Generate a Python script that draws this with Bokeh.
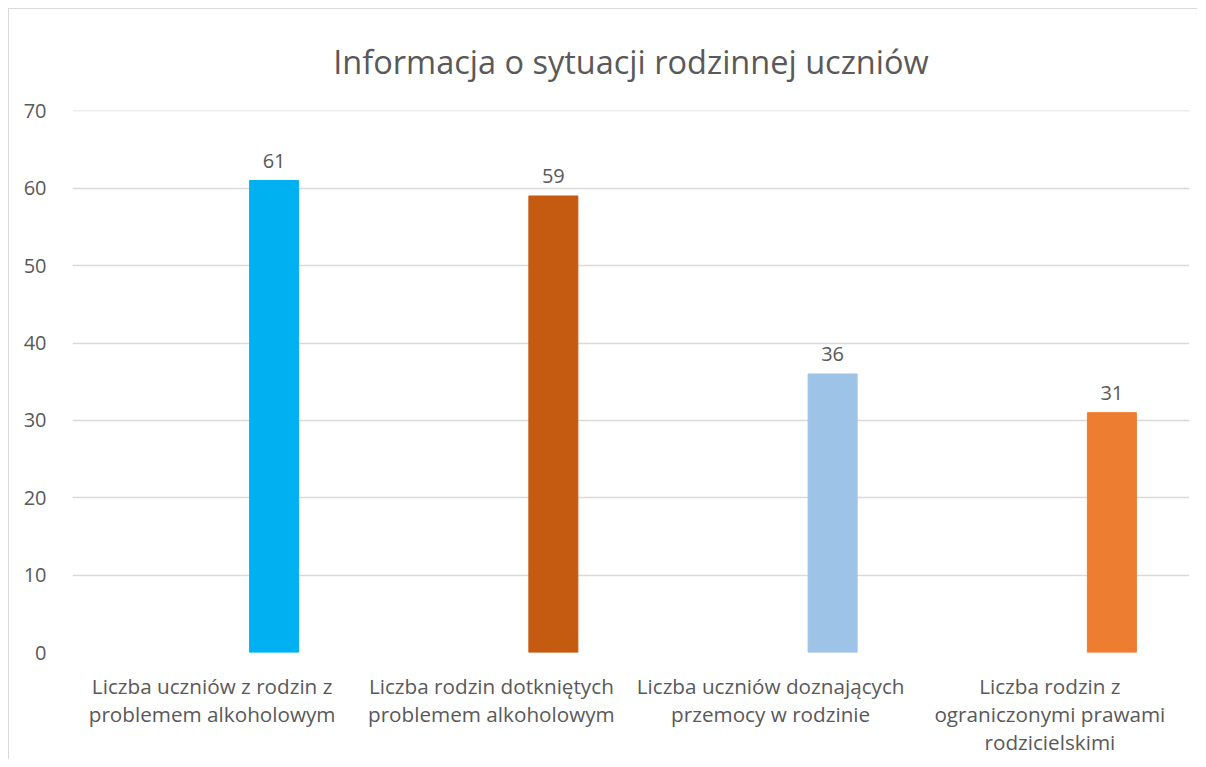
from bokeh.plotting import figure
from bokeh.models import ColumnDataSource, FactorRange, SingleIntervalTicker, Range1d
from bokeh.transform import dodge
from bokeh.core.properties import value
from bokeh.embed import file_html
from bokeh.resources import INLINE

title_text = "Informacja o sytuacji rodzinnej uczniów"
categories = [
    "Liczba uczniów z rodzin z\nproblemem alkoholowym",
    "Liczba rodzin dotkniętych\nproblemem alkoholowym",
    "Liczba uczniów doznających\nprzemocy w rodzinie",
    "Liczba rodzin z\nograniczonymi prawami\nrodzicielskimi",
]
values = [61, 59, 36, 31]
colors = ["#00B0F0", "#C55A11", "#9DC3E6", "#ED7D31"]
labels = [str(v) for v in values]

FONT = "Open Sans"
TXT = "#595959"

src = ColumnDataSource(dict(cat=categories, val=values, color=colors, lab=labels))

p = figure(
    width=1189, height=751,
    x_range=FactorRange(factors=categories, range_padding=0),
    y_range=Range1d(0, 70.05),
    output_backend="svg", toolbar_location=None,
    title=title_text,
)
p.min_border_left = 63
p.min_border_right = 9
p.min_border_bottom = 108
p.min_border_top = 98
p.styles = {"border-top": "1px solid #D9D9D9", "border-left": "1px solid #D9D9D9",
            "margin-top": "8px", "margin-left": "8px"}

p.title.align = "center"
p.title.text_font = FONT
p.title.text_font_size = "32.5px"
p.title.text_font_style = "normal"
p.title.text_color = TXT
p.title.standoff = 54

p.vbar(x=dodge("cat", 0.222, range=p.x_range), top="val", width=0.1755,
       color="color", source=src)
p.text(x=dodge("cat", 0.222, range=p.x_range), y="val", text="lab", source=src,
       text_align="center", text_baseline="bottom", y_offset=-13,
       text_font=value(FONT), text_font_size="20px", text_color=TXT)

p.outline_line_color = None
p.xgrid.grid_line_color = None
p.ygrid.grid_line_color = "#D9D9D9"
p.ygrid.grid_line_width = 1.3
p.yaxis.ticker = SingleIntervalTicker(interval=10)

for ax in (p.xaxis, p.yaxis):
    ax.axis_line_color = None
    ax.major_tick_line_color = None
    ax.minor_tick_line_color = None
    ax.major_label_text_font = FONT
    ax.major_label_text_color = TXT

p.yaxis.major_label_text_font_size = "20px"
p.xaxis.major_label_text_font_size = "20.7px"
p.yaxis.major_label_standoff = 20
p.xaxis.major_label_standoff = 13
p.xaxis.major_label_text_line_height = 1.0

open("out.html", "w").write(file_html(p, INLINE))
